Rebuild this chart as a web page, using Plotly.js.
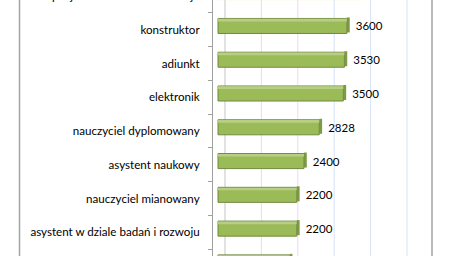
<!DOCTYPE html>
<html>
<head>
<meta charset="utf-8">
<script src="https://cdn.plot.ly/plotly-3.0.1.min.js"></script>
<style>
html,body{margin:0;padding:0;width:455px;height:256px;overflow:hidden;background:#fff;}
#chart{position:absolute;left:0;top:-39px;width:455px;height:336px;}
</style>
</head>
<body>
<div id="chart"></div>
<script>
// Categories listed top to bottom as they appear (first and last are cropped by the picture edge)
var categories = [
  "specjalista ds. badań i rozwoju",
  "konstruktor",
  "adiunkt",
  "elektronik",
  "nauczyciel dyplomowany",
  "asystent naukowy",
  "nauczyciel mianowany",
  "asystent w dziale badań i rozwoju",
  "technik"
];
var values = [4000, 3600, 3530, 3500, 2828, 2400, 2200, 2200, 2000];
// Tick labels as shown (the last category's label lies below the cropped edge)
var tickLabels = [
  "specjalista ds. badań i rozwoju",
  "konstruktor",
  "adiunkt",
  "elektronik",
  "nauczyciel dyplomowany",
  "asystent naukowy",
  "nauczyciel mianowany",
  "asystent w dziale badań i rozwoju",
  ""
];
var gridTicks = [0, 1000, 2000, 3000, 4000, 5000];
var gridColors = ["#c4c4c4", "#f3d6f3", "#f3d6f3", "#d6e2f7", "#d6e2f7", "#d6e2f7"];

var n = values.length;
var barColors = values.map(function(v, i){ return i === 0 ? "#fbf8d2" : "#9bbb59"; });
var lineColors = values.map(function(v, i){ return i === 0 ? "#f3efc0" : "#71893f"; });
var hiColors = values.map(function(v, i){ return i === 0 ? "#fdfbe4" : "#b7cf83"; });
var capColors = values.map(function(v, i){ return i === 0 ? "#f3efc0" : "#7d9a45"; });
// value labels of the cropped first/last bars fall outside the picture
var valueText = values.map(function(v, i){
  return (i === 0 || i === n - 1) ? "" : "\u00a0\u00a0" + v;
});
var capDepth = 80; // 3D end-cap depth, a style length in axis units

var font = "Lato, 'Open Sans', sans-serif";

var mainBar = {
  type: "bar",
  orientation: "h",
  y: categories,
  x: values,
  offset: -0.3325,
  width: 0.445,
  marker: {color: barColors, line: {color: lineColors, width: 1}},
  text: valueText,
  textposition: "outside",
  textfont: {family: font, size: 11.5, color: "#000"},
  cliponaxis: false,
  hoverinfo: "skip"
};
var highlight = {
  type: "bar",
  orientation: "h",
  y: categories,
  x: values,
  offset: -0.3225,
  width: 0.08,
  marker: {color: hiColors, line: {width: 0}},
  hoverinfo: "skip"
};
var cap = {
  type: "bar",
  orientation: "h",
  y: categories,
  base: values,
  x: values.map(function(){ return capDepth; }),
  offset: -0.3625,
  width: 0.445,
  marker: {color: capColors, line: {width: 0}},
  hoverinfo: "skip"
};

var shapes = gridTicks.map(function(t, i){
  return {type: "line", xref: "x2", yref: "paper", x0: t, x1: t, y0: 0, y1: 1,
          line: {color: gridColors[i], width: 1}, layer: "below"};
});
shapes.push({type: "rect", xref: "paper", yref: "paper",
  x0: -0.9675, x1: 1.095, y0: -0.3, y1: 1.3,
  line: {color: "#a3a3a3", width: 1.5}, fillcolor: "rgba(0,0,0,0)", layer: "above"});

var layout = {
  width: 455, height: 336,
  margin: {l: 213, r: 42, t: 18, b: 14, pad: 0},
  paper_bgcolor: "#fff",
  plot_bgcolor: "rgba(0,0,0,0)",
  barmode: "overlay",
  showlegend: false,
  font: {family: font, size: 11.6, color: "#000"},
  xaxis: {range: [-139.7, 5446.9], showgrid: false, zeroline: false,
          showticklabels: false, ticks: "", showline: false, fixedrange: true},
  xaxis2: {overlaying: "x", range: [-329.7, 5165], showgrid: false, zeroline: false,
           showticklabels: false, ticks: "", showline: false, fixedrange: true},
  yaxis: {type: "category", categoryorder: "array", categoryarray: categories,
          tickmode: "array", tickvals: categories, ticktext: tickLabels,
          range: [8.5, -0.5], showgrid: false, zeroline: false,
          showline: true, linecolor: "#a0a0a0", linewidth: 1,
          ticks: "outside", tickson: "boundaries", ticklen: 4, tickcolor: "#a0a0a0",
          ticklabelstandoff: 10,
          tickfont: {family: font, size: 11.6, color: "#000"}, fixedrange: true},
  shapes: shapes
};

Plotly.newPlot("chart", [cap, mainBar, highlight], layout, {staticPlot: true, displayModeBar: false});
</script>
</body>
</html>
